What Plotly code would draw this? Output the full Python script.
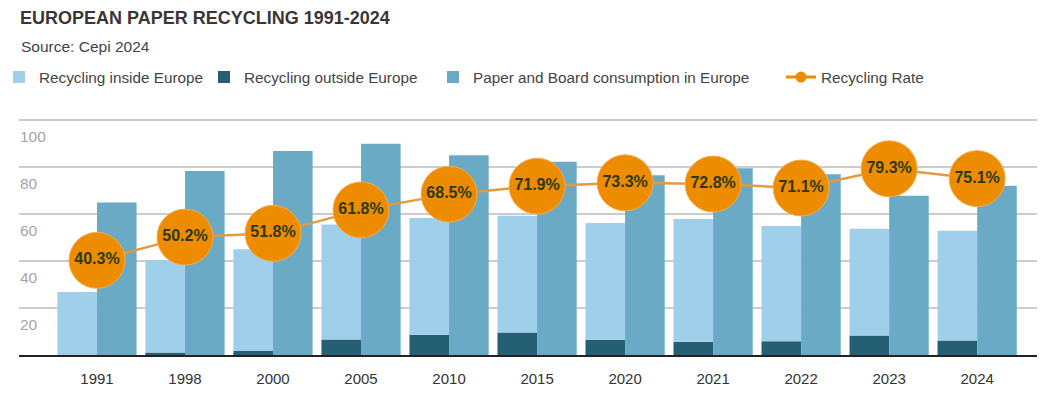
import plotly.graph_objects as go

years = ["1991", "1998", "2000", "2005", "2010", "2015", "2020", "2021", "2022", "2023", "2024"]
recycling_outside = [0.0, 1.1, 1.7, 6.6, 8.6, 9.6, 6.5, 5.6, 5.9, 8.3, 6.2]
recycling_total = [26.8, 40.3, 45.0, 55.6, 58.3, 59.3, 56.2, 57.9, 54.9, 53.8, 52.9]
recycling_inside = [round(t - o, 1) for t, o in zip(recycling_total, recycling_outside)]
consumption = [64.9, 78.4, 86.9, 90.0, 85.1, 82.3, 76.5, 79.5, 77.0, 67.8, 72.1]
recycling_rate = [40.3, 50.2, 51.8, 61.8, 68.5, 71.9, 73.3, 72.8, 71.1, 79.3, 75.1]
y_ticks = [20, 40, 60, 80, 100]

C_IN = "#A0CFEB"
C_OUT = "#255F73"
C_CONS = "#6AAAC5"
C_ORANGE = "#EE8C00"
C_LINE = "#E39A3F"
FONT = "Liberation Sans, Arial, sans-serif"

# page has an 8px body margin: figure is shifted by it
OFF = 8
W, H = 1053 - OFF, 394 - OFF
Y_MAX = 100.5
PX_PER_UNIT = 2.347
PAGE_LEFT, PAGE_RIGHT, PAGE_BOTTOM = 19, 1037, 354.7
ML = PAGE_LEFT - OFF
MR = W - (PAGE_RIGHT - OFF)
MB = H - (PAGE_BOTTOM - OFF)
PH = Y_MAX * PX_PER_UNIT
MT = H - MB - PH
PW = W - ML - MR


def px_x(p):
    return (p - OFF - ML) / PW


def px_y(p):
    return (H - MB - (p - OFF)) / PH


fig = go.Figure()

fig.add_trace(go.Bar(
    x=years, y=recycling_outside, name="Recycling outside Europe",
    marker=dict(color=C_OUT, line=dict(width=0)), offsetgroup="rec",
    legend="legend2", hoverinfo="y",
))
fig.add_trace(go.Bar(
    x=years, y=recycling_inside, base=recycling_outside, name="Recycling inside Europe",
    marker=dict(color=C_IN, line=dict(width=0)), offsetgroup="rec",
    legend="legend", hoverinfo="y",
))
fig.add_trace(go.Bar(
    x=years, y=consumption, name="Paper and Board consumption in Europe",
    marker=dict(color=C_CONS, line=dict(width=0)), offsetgroup="cons",
    legend="legend3", hoverinfo="y",
))
fig.add_trace(go.Scatter(
    x=years, y=recycling_rate, mode="lines+markers", name="Recycling Rate",
    line=dict(color=C_LINE, width=2.5),
    marker=dict(size=56, color=C_ORANGE, line=dict(color="#F3AE55", width=1)),
    showlegend=False,
))
fig.add_trace(go.Scatter(
    x=years, y=recycling_rate, mode="text",
    text=[f"{v:.1f}%" for v in recycling_rate],
    textposition="middle center",
    textfont=dict(family=FONT, size=16, color="#2C3A14", weight="bold"),
    showlegend=False, hoverinfo="skip",
))
# legend-only entry for the recycling rate
fig.add_trace(go.Scatter(
    x=[None], y=[None], mode="lines+markers", name="Recycling Rate",
    line=dict(color=C_ORANGE, width=3),
    marker=dict(size=11, color=C_ORANGE),
    legend="legend4",
))

leg_common = dict(
    orientation="h", yanchor="middle", xanchor="left", y=px_y(77),
    font=dict(family=FONT, size=15.3, color="#444444"),
    bgcolor="rgba(0,0,0,0)", borderwidth=0,
)

# y tick labels sit just below their gridlines, inside the plot
y_labels = [dict(
    text=str(v), xref="paper", yref="y", x=px_x(18), y=v,
    xanchor="left", yanchor="middle", yshift=-16, showarrow=False,
    font=dict(family=FONT, size=15.5, color="#A5A5A5"),
) for v in y_ticks]

fig.update_layout(
    width=W, height=H,
    margin=dict(l=ML, r=MR, t=MT, b=MB, pad=0, autoexpand=False),
    paper_bgcolor="white", plot_bgcolor="white",
    barmode="group", bargap=0.1, bargroupgap=0,
    font=dict(family=FONT, color="#333333"),
    title=dict(
        text="EUROPEAN PAPER RECYCLING 1991-2024",
        font=dict(family=FONT, size=18, color="#3B3636", weight="bold"),
        xref="container", yref="container", x=(20 - OFF) / W, xanchor="left",
        y=1 - (18 - OFF) / H, yanchor="middle", pad=dict(l=0, r=0, t=0, b=0),
    ),
    legend=dict(leg_common, x=px_x(-1)),
    legend2=dict(leg_common, x=px_x(204)),
    legend3=dict(leg_common, x=px_x(433)),
    legend4=dict(leg_common, x=px_x(781)),
    annotations=[dict(
        text="Source: Cepi 2024", xref="paper", yref="paper",
        x=px_x(19), y=px_y(46), xanchor="left", yanchor="middle",
        showarrow=False, font=dict(family=FONT, size=15.5, color="#444444"),
    )] + y_labels,
    xaxis=dict(
        type="category", range=[-0.886, 10.68],
        showline=True, linecolor="#222222", linewidth=2,
        showgrid=False, ticks="", ticklabelstandoff=9,
        tickfont=dict(family=FONT, size=15, color="#333333"),
        fixedrange=True,
    ),
    yaxis=dict(
        range=[0, Y_MAX], tickvals=y_ticks, showticklabels=False,
        showgrid=True, gridcolor="#CCCCCC", gridwidth=1.5,
        zeroline=False, showline=False,
        fixedrange=True,
    ),
)

fig.write_html("out.html")
